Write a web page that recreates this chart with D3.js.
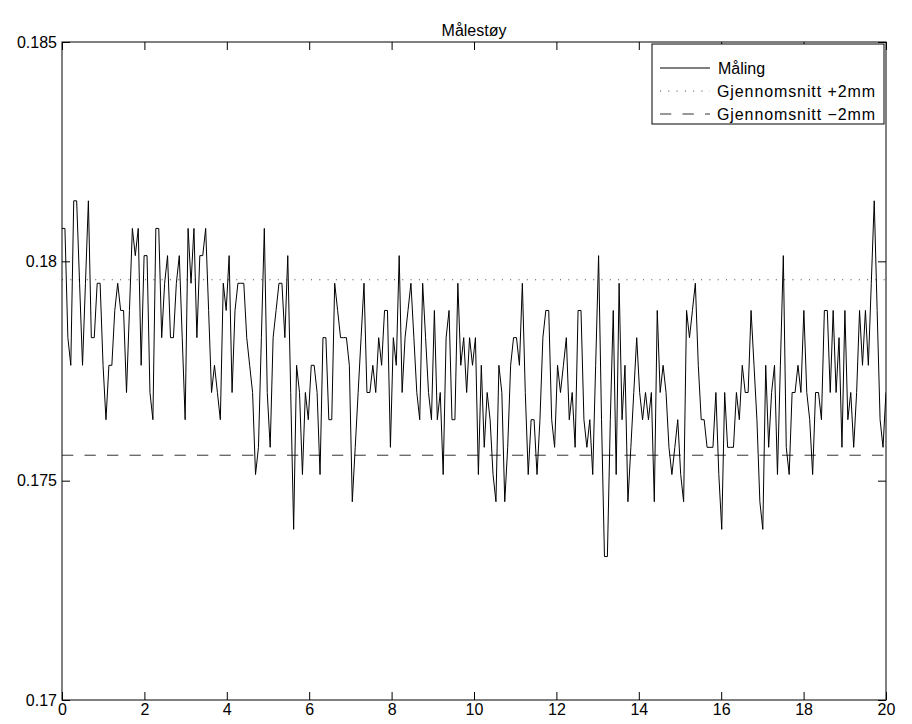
<!DOCTYPE html>
<html>
<head>
<meta charset="utf-8">
<script src="https://cdn.jsdelivr.net/npm/d3@7"></script>
<style>
  body { margin: 0; background: #fff; }
  text { font-family: "Liberation Sans", Arial, sans-serif; }
</style>
</head>
<body>
<div id="chart"></div>
<script>
// measured distance (m), one sample every sampleStep seconds
const maling = [
  0.18075, 0.18075, 0.17826, 0.17763, 0.18138, 0.18138, 0.17950, 0.17763, 0.17950, 0.18138, 0.17826, 0.17826, 0.17950, 0.17950, 0.17763, 0.17639, 0.17763, 0.17763, 0.17888, 0.17950, 0.17888, 0.17888, 0.17701,
  0.17888, 0.18075, 0.18013, 0.18075, 0.17763, 0.18013, 0.18013, 0.17701, 0.17639, 0.18075, 0.18075, 0.17826, 0.17950, 0.18013, 0.17826, 0.17826, 0.17950, 0.18013, 0.17826, 0.17639, 0.18075, 0.17950, 0.18075, 0.17826,
  0.18013, 0.18013, 0.18075, 0.17888, 0.17701, 0.17763, 0.17701, 0.17639, 0.17950, 0.17888, 0.18013, 0.17701, 0.17888, 0.17950, 0.17950, 0.17950, 0.17826, 0.17763, 0.17701, 0.17514, 0.17576, 0.17826, 0.18075,
  0.17701, 0.17576, 0.17826, 0.17888, 0.17950, 0.17950, 0.17826, 0.18013, 0.17701, 0.17389, 0.17763, 0.17701, 0.17514, 0.17701, 0.17639, 0.17763, 0.17763, 0.17701, 0.17514, 0.17826, 0.17826, 0.17639, 0.17639, 0.17950,
  0.17888, 0.17826, 0.17826, 0.17826, 0.17763, 0.17452, 0.17576, 0.17701, 0.17826, 0.17950, 0.17701, 0.17701, 0.17763, 0.17701, 0.17826, 0.17763, 0.17888, 0.17888, 0.17576, 0.17826, 0.17763, 0.18013, 0.17701,
  0.17826, 0.17888, 0.17950, 0.17826, 0.17701, 0.17639, 0.17950, 0.17826, 0.17701, 0.17639, 0.17888, 0.17639, 0.17701, 0.17514, 0.17826, 0.17888, 0.17639, 0.17639, 0.17950, 0.17763, 0.17826, 0.17701, 0.17826, 0.17763,
  0.17826, 0.17514, 0.17763, 0.17576, 0.17701, 0.17639, 0.17514, 0.17452, 0.17763, 0.17701, 0.17452, 0.17576, 0.17763, 0.17826, 0.17826, 0.17763, 0.17950, 0.17701, 0.17514, 0.17639, 0.17639, 0.17514,
  0.17639, 0.17826, 0.17888, 0.17888, 0.17639, 0.17576, 0.17763, 0.17701, 0.17763, 0.17826, 0.17639, 0.17701, 0.17576, 0.17888, 0.17888, 0.17639, 0.17576, 0.17639, 0.17514, 0.17763, 0.18013, 0.17639, 0.17327, 0.17327,
  0.17639, 0.17888, 0.17514, 0.17950, 0.17639, 0.17763, 0.17452, 0.17576, 0.17701, 0.17826, 0.17701, 0.17639, 0.17701, 0.17639, 0.17701, 0.17452, 0.17888, 0.17701, 0.17763, 0.17701, 0.17576, 0.17514, 0.17576, 0.17639,
  0.17514, 0.17452, 0.17888, 0.17826, 0.17888, 0.17950, 0.17763, 0.17639, 0.17639, 0.17576, 0.17576, 0.17576, 0.17701, 0.17514, 0.17389, 0.17701, 0.17576, 0.17576, 0.17576, 0.17701, 0.17639, 0.17763, 0.17701, 0.17701,
  0.17888, 0.17763, 0.17639, 0.17452, 0.17389, 0.17763, 0.17576, 0.17701, 0.17763, 0.17514, 0.17763, 0.18013, 0.17576, 0.17514, 0.17701, 0.17701, 0.17763, 0.17701, 0.17888, 0.17701, 0.17639, 0.17514, 0.17701, 0.17701,
  0.17639, 0.17888, 0.17888, 0.17701, 0.17888, 0.17701, 0.17826, 0.17576, 0.17888, 0.17639, 0.17701, 0.17576, 0.17701, 0.17888, 0.17763, 0.17888, 0.17763, 0.17950, 0.18138, 0.17888, 0.17639, 0.17576, 0.17701, 0.17701
];
const sampleStep = 0.07117;   // s
const gjennomsnitt = 0.17758; // mean of the measurement
const avvik = 0.002;          // +-2 mm

const xTicks = [0, 2, 4, 6, 8, 10, 12, 14, 16, 18, 20];
const yTicks = [0.17, 0.175, 0.18, 0.185];
const yTickLabels = ["0.17", "0.175", "0.18", "0.185"];
const legendLabels = ["Måling", "Gjennomsnitt +2mm", "Gjennomsnitt \u22122mm"];

const data = maling.map((v, i) => ({ t: i * sampleStep, v: v }));

var W = 912, H = 724;
var margin = { top: 42, right: 26, bottom: 24, left: 62 },
  width = W - margin.left - margin.right,
  height = H - margin.top - margin.bottom;

var svg = d3.select("#chart").append("svg")
  .attr("width", W).attr("height", H)
  .style("font-family", "'Liberation Sans', Arial, sans-serif");

var g = svg.append("g")
  .attr("transform", "translate(" + margin.left + "," + margin.top + ")");

var x = d3.scaleLinear().domain([0, 20]).range([0, width]);
var y = d3.scaleLinear().domain([0.17, 0.185]).range([height, 0]);

g.append("clipPath").attr("id", "clip")
  .append("rect").attr("width", width).attr("height", height);

// axes, ticks pointing inwards like matlab
var fontSize = 16;
var xAxis = g.append("g").attr("transform", "translate(0," + height + ")")
  .call(d3.axisBottom(x).tickValues(xTicks).tickSizeInner(-8).tickSizeOuter(0).tickPadding(4));
var xTop = g.append("g")
  .call(d3.axisTop(x).tickValues(xTicks).tickSizeInner(-8).tickSizeOuter(0).tickFormat(""));
var yAxis = g.append("g")
  .call(d3.axisLeft(y).tickValues(yTicks).tickSizeInner(-8).tickSizeOuter(0).tickPadding(5)
    .tickFormat((d, i) => yTickLabels[i]));
var yRight = g.append("g").attr("transform", "translate(" + width + ",0)")
  .call(d3.axisRight(y).tickValues(yTicks).tickSizeInner(-8).tickSizeOuter(0).tickFormat(""));

[xAxis, xTop, yAxis, yRight].forEach(a => {
  a.select(".domain").remove();
  a.selectAll("line").attr("stroke", "#000");
  a.selectAll("text").attr("fill", "#000").style("font-size", fontSize + "px")
    .style("font-family", "'Liberation Sans', Arial, sans-serif");
});

// mean lines
var meanLines = [
  { v: gjennomsnitt + avvik, dash: "1,7.3", color: "#444" },
  { v: gjennomsnitt - avvik, dash: "11.3,11.2", color: "#333" }
];
g.selectAll(".mean").data(meanLines).enter().append("line")
  .attr("class", "mean")
  .attr("x1", x(0)).attr("x2", x(20))
  .attr("y1", d => y(d.v)).attr("y2", d => y(d.v))
  .attr("stroke", d => d.color).attr("stroke-width", 1)
  .attr("stroke-dasharray", d => d.dash);

// measurement
var line = d3.line().x(d => x(d.t)).y(d => y(d.v));
g.append("path").datum(data)
  .attr("clip-path", "url(#clip)")
  .attr("fill", "none").attr("stroke", "#000").attr("stroke-width", 1)
  .attr("stroke-linejoin", "miter")
  .attr("d", line);

// box
g.append("rect").attr("width", width).attr("height", height)
  .attr("fill", "none").attr("stroke", "#000").attr("stroke-width", 1);

// title
svg.append("text").attr("x", margin.left + width / 2).attr("y", 36)
  .attr("text-anchor", "middle").style("font-size", fontSize + "px").text("Målestøy");

// legend
var lg = svg.append("g").attr("transform", "translate(652,44)");
lg.append("rect").attr("width", 232).attr("height", 80)
  .attr("fill", "#fff").attr("stroke", "#000").attr("stroke-width", 1);
var legendStyles = [
  { dash: null, color: "#000" },
  { dash: "1,7.3", color: "#444" },
  { dash: "11.3,11.2", color: "#333" }
];
var items = lg.selectAll(".item").data(legendLabels).enter().append("g")
  .attr("transform", (d, i) => "translate(0," + (24 + i * 23) + ")");
items.append("line").attr("x1", 8).attr("x2", 58)
  .attr("stroke", (d, i) => legendStyles[i].color)
  .attr("stroke-dasharray", (d, i) => legendStyles[i].dash);
items.append("text").attr("x", (d, i) => i ? 65 : 66).attr("dy", "0.35em")
  .style("font-size", fontSize + "px")
  .attr("textLength", (d, i) => i ? 158 : null)
  .attr("lengthAdjust", "spacing")
  .text(d => d);
</script>
</body>
</html>
